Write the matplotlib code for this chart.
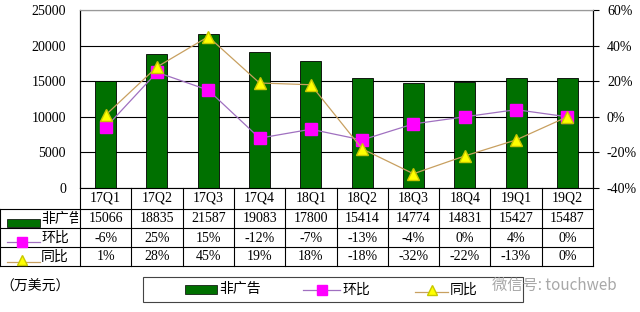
import numpy as np
import matplotlib.pyplot as plt
from matplotlib.lines import Line2D
from matplotlib.patches import Rectangle
from matplotlib.transforms import Bbox, TransformedBbox

# 数据
quarters = ['17Q1', '17Q2', '17Q3', '17Q4', '18Q1', '18Q2', '18Q3', '18Q4', '19Q1', '19Q2']
revenue = [15066, 18835, 21587, 19083, 17800, 15414, 14774, 14831, 15427, 15487]
qoq = [-6, 25, 15, -12, -7, -13, -4, 0, 4, 0]
yoy = [1, 28, 45, 19, 18, -18, -32, -22, -13, 0]
row_names = ['非广告', '环比', '同比']

GREEN = '#007000'
MAG = '#FF00FF'
PURP = '#A070C0'
YEL = '#FFFF00'
TAN = '#C8A060'

plt.rcParams['font.family'] = ['Liberation Serif', 'Noto Sans CJK SC']
plt.rcParams['font.size'] = 10

W, H = 640, 312
fig = plt.figure(figsize=(6.4, 3.12), dpi=100)

def fx(x):
    return x / W

def fy(y):
    return 1 - y / H

x0, x1, y0, y1 = 80, 593, 10, 188
ax = fig.add_axes([fx(x0), fy(y1), fx(x1 - x0), (y1 - y0) / H])
ax2 = ax.twinx()

x = np.arange(len(quarters))
ax.bar(x, revenue, width=0.41, color=GREEN, edgecolor='black', linewidth=0.6, zorder=3)
ax.set_xlim(-0.5, len(quarters) - 0.5)
ax.set_ylim(0, 25000)
ax.set_yticks(range(0, 25001, 5000))
ax.grid(axis='y', color='black', linewidth=0.8, zorder=0)
ax.set_axisbelow(True)
ax.set_xticks([])
ax.tick_params(axis='y', length=0, pad=10)

ax2.plot(x, qoq, color=PURP, linewidth=0.9, marker='s', markersize=8,
         markerfacecolor=MAG, markeredgecolor=MAG, zorder=4)
ax2.plot(x, yoy, color=TAN, linewidth=0.9, marker='^', markersize=8,
         markerfacecolor=YEL, markeredgecolor='#C8C800', zorder=5)
ax2.set_ylim(-40, 60)
ax2.set_yticks(range(-40, 61, 20))
ax2.set_yticklabels([f'{v}%' for v in range(-40, 61, 20)])
ax2.tick_params(axis='y', length=4, pad=6)
ax2.set_xlim(-0.5, len(quarters) - 0.5)

for a in (ax, ax2):
    a.spines['top'].set_color('#999999')
    a.spines['bottom'].set_visible(False)
    a.spines['left'].set_color('black')
    a.spines['right'].set_color('black')

# 表格
def hline(xa, xb, y, c='black', lw=0.8):
    fig.add_artist(Line2D([fx(xa), fx(xb)], [fy(y), fy(y)], color=c, linewidth=lw,
                          transform=fig.transFigure))

def vline(x_, ya, yb, c='black', lw=0.8):
    fig.add_artist(Line2D([fx(x_), fx(x_)], [fy(ya), fy(yb)], color=c, linewidth=lw,
                          transform=fig.transFigure))

rows_y = [188, 209, 228, 247, 266]
col_w = (x1 - x0) / len(quarters)
hline(x0, x1, 188)
for yy in rows_y[1:]:
    hline(0, x1, yy)
vline(0, 209, 266)
for i in range(len(quarters) + 1):
    vline(x0 + i * col_w, 188, 266)

for i, q in enumerate(quarters):
    cx = x0 + (i + 0.5) * col_w
    fig.text(fx(cx), fy(198.5), q, ha='center', va='center')
    fig.text(fx(cx), fy(219), str(revenue[i]), ha='center', va='center')
    fig.text(fx(cx), fy(238), f'{qoq[i]}%', ha='center', va='center')
    fig.text(fx(cx), fy(257), f'{yoy[i]}%', ha='center', va='center')

# 行标签
fig.add_artist(Rectangle((fx(7), fy(227)), fx(33), 8 / H, facecolor=GREEN,
                         edgecolor='black', linewidth=0.5, transform=fig.transFigure))
t = fig.text(fx(41), fy(219), row_names[0], ha='left', va='center',
             family='Noto Sans CJK SC')
t.set_clip_box(TransformedBbox(Bbox([[0, fy(228)], [fx(78), fy(209)]]), fig.transFigure))
t.set_clip_on(True)
fig.add_artist(Line2D([fx(7), fx(40)], [fy(242), fy(242)], color=PURP, linewidth=0.9,
                      transform=fig.transFigure))
fig.add_artist(Line2D([fx(22)], [fy(242)], marker='s', markersize=7, color=MAG,
                      transform=fig.transFigure))
fig.text(fx(41), fy(238), row_names[1], ha='left', va='center', family='Noto Sans CJK SC')
fig.add_artist(Line2D([fx(7), fx(40)], [fy(262), fy(262)], color=TAN, linewidth=0.9,
                      transform=fig.transFigure))
fig.add_artist(Line2D([fx(22)], [fy(260)], marker='^', markersize=7, markerfacecolor=YEL,
                      markeredgecolor='#C8C800', transform=fig.transFigure))
fig.text(fx(41), fy(257), row_names[2], ha='left', va='center', family='Noto Sans CJK SC')

fig.text(fx(0), fy(287), '（万美元）', ha='left', va='center', family='Noto Sans CJK SC')

# 图例
fig.add_artist(Rectangle((fx(143), fy(302)), fx(380), 25 / H, facecolor='white',
                         edgecolor='#444444', linewidth=0.8, transform=fig.transFigure))
fig.add_artist(Rectangle((fx(185), fy(294)), fx(32), 9 / H, facecolor=GREEN,
                         edgecolor='black', linewidth=0.5, transform=fig.transFigure))
fig.text(fx(219), fy(289.5), row_names[0], ha='left', va='center', family='Noto Sans CJK SC')
fig.add_artist(Line2D([fx(303), fx(340)], [fy(290), fy(290)], color=PURP, linewidth=0.9,
                      transform=fig.transFigure))
fig.add_artist(Line2D([fx(322)], [fy(290)], marker='s', markersize=7, color=MAG,
                      transform=fig.transFigure))
fig.text(fx(342), fy(289.5), row_names[1], ha='left', va='center', family='Noto Sans CJK SC')
fig.add_artist(Line2D([fx(415), fx(448)], [fy(292), fy(292)], color=TAN, linewidth=0.9,
                      transform=fig.transFigure))
fig.add_artist(Line2D([fx(432)], [fy(290)], marker='^', markersize=7, markerfacecolor=YEL,
                      markeredgecolor='#C8C800', transform=fig.transFigure))
fig.text(fx(450), fy(289.5), row_names[2], ha='left', va='center', family='Noto Sans CJK SC')

# 水印
fig.text(fx(492), fy(285), '微信号: touchweb', ha='left', va='center', color='#A8A8A8',
         fontsize=11, family=['Noto Sans CJK SC', 'DejaVu Sans'])

fig.savefig('out.png', dpi=100)
